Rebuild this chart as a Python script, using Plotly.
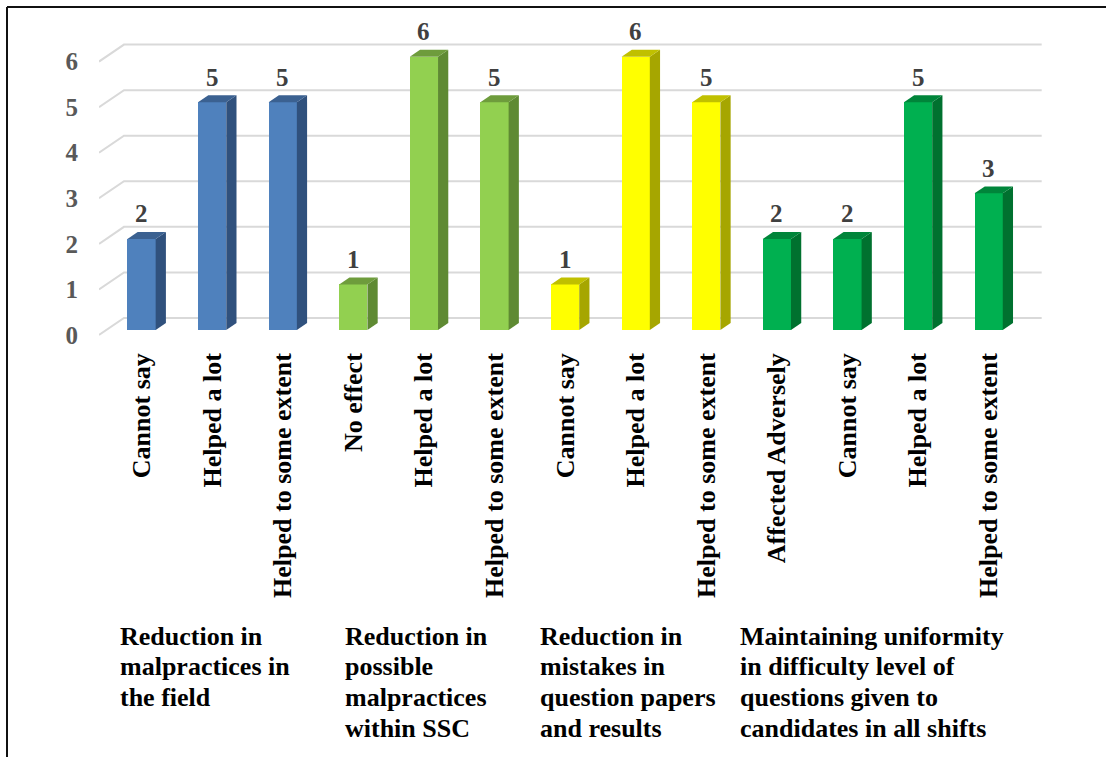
import plotly.graph_objects as go

# Survey responses on the impact of the new examination system
groups = [
    ["Reduction in", "malpractices in", "the field"],
    ["Reduction in", "possible", "malpractices", "within SSC"],
    ["Reduction in", "mistakes in", "question papers", "and results"],
    ["Maintaining uniformity", "in difficulty level of", "questions given to", "candidates in all shifts"],
]
responses = [
    ["Cannot say", "Helped a lot", "Helped to some extent"],
    ["No effect", "Helped a lot", "Helped to some extent"],
    ["Cannot say", "Helped a lot", "Helped to some extent"],
    ["Affected Adversely", "Cannot say", "Helped a lot", "Helped to some extent"],
]
counts = [
    [2, 5, 5],
    [1, 6, 5],
    [1, 6, 5],
    [2, 2, 5, 3],
]
y_ticks = [0, 1, 2, 3, 4, 5, 6]

# colour of each group: front face, right side face, top face
palette = [
    ("#4F81BD", "#30517D", "#3B6191"),
    ("#92D050", "#5F8A33", "#6E9C3C"),
    ("#FFFF00", "#A6A600", "#C0C000"),
    ("#00B050", "#00712F", "#00853A"),
]

# pseudo-3D geometry (in axis units)
FLOOR_DX, FLOOR_DY = 0.354, 0.373     # full depth of the floor
BAR_FRONT, BAR_DEPTH = 0.29, 0.41     # fraction of floor depth
HALF_W = 0.2
shift_x, base = BAR_FRONT * FLOOR_DX, BAR_FRONT * FLOOR_DY
bdx, bdy = BAR_DEPTH * FLOOR_DX, BAR_DEPTH * FLOOR_DY

labels, values, fronts, sides, tops = [], [], [], [], []
for g, (resp, cnt) in enumerate(zip(responses, counts)):
    for r, c in zip(resp, cnt):
        labels.append(r)
        values.append(c)
        fronts.append(palette[g][0])
        sides.append(palette[g][1])
        tops.append(palette[g][2])
n = len(values)
xc = [i + shift_x for i in range(n)]

SERIF = "Liberation Serif, Times New Roman, serif"
fig = go.Figure()

fig.add_trace(go.Bar(
    x=xc, y=values, base=base, width=2 * HALF_W,
    marker=dict(color=fronts, line=dict(width=0)),
    showlegend=False, hoverinfo="skip",
))

for x, v, cs, ct in zip(xc, values, sides, tops):
    xl, xr, top = x - HALF_W, x + HALF_W, base + v
    fig.add_trace(go.Scatter(
        x=[xr, xr + bdx, xr + bdx, xr, xr],
        y=[base, base + bdy, top + bdy, top, base],
        fill="toself", fillcolor=cs, mode="lines", line=dict(width=0),
        showlegend=False, hoverinfo="skip",
    ))
    fig.add_trace(go.Scatter(
        x=[xl, xr, xr + bdx, xl + bdx, xl],
        y=[top, top, top + bdy, top + bdy, top],
        fill="toself", fillcolor=ct, mode="lines", line=dict(width=0),
        showlegend=False, hoverinfo="skip",
    ))

# value labels above each column
annotations = []
for x, v in zip(xc, values):
    annotations.append(dict(
        x=x, y=base + v + bdy, xref="x", yref="y", text=str(v),
        showarrow=False, yanchor="middle", yshift=18,
        font=dict(family=SERIF, size=25, color="#404040", weight="bold"),
    ))

# wall gridlines: side wall diagonal + back wall line
x_left, x_right = -0.5, n - 0.5
shapes = []
for t in y_ticks:
    shapes.append(dict(
        type="path", xref="x", yref="y", layer="below",
        path=(f"M {x_left} {t} L {x_left + FLOOR_DX} {t + FLOOR_DY} "
              f"L {x_right + FLOOR_DX} {t + FLOOR_DY}"),
        line=dict(color="#D9D9D9", width=2),
    ))

W, H = 1106, 757
M_L, M_R, M_T, M_B = 99, 54, 16, 415
plot_w, plot_h = W - M_L - M_R, H - M_T - M_B


def paper_x(px):
    return (px - M_L) / plot_w


def paper_y(py):
    return (H - M_B - py) / plot_h


# outer frame (top and left edges)
shapes.append(dict(type="line", xref="paper", yref="paper",
                   x0=paper_x(7), y0=paper_y(7), x1=paper_x(W + 5), y1=paper_y(7),
                   line=dict(color="#111111", width=2)))
shapes.append(dict(type="line", xref="paper", yref="paper",
                   x0=paper_x(7), y0=paper_y(7), x1=paper_x(7), y1=paper_y(H + 5),
                   line=dict(color="#111111", width=2)))

# multi-line group captions below the response labels
group_left = [118, 343, 538, 738]
line_y0, line_pitch = 636, 30.7
for gx, lines in zip(group_left, groups):
    for k, txt in enumerate(lines):
        annotations.append(dict(
            x=paper_x(gx), y=paper_y(line_y0 + k * line_pitch),
            xref="paper", yref="paper", text=txt, showarrow=False,
            xanchor="left", yanchor="middle",
            font=dict(family=SERIF, size=26, color="#000000", weight="bold"),
        ))

fig.update_layout(
    width=W, height=H,
    margin=dict(l=M_L, r=M_R, t=M_T, b=M_B, pad=0),
    paper_bgcolor="white", plot_bgcolor="white",
    font=dict(family=SERIF),
    shapes=shapes, annotations=annotations,
    xaxis=dict(
        range=[x_left, n], tickmode="array", tickvals=xc, ticktext=labels,
        tickangle=-90, showgrid=False, zeroline=False, showline=False,
        ticks="", ticklabelstandoff=5,
        tickfont=dict(family=SERIF, size=26, color="#000000", weight="bold"),
    ),
    yaxis=dict(
        range=[-0.154, 7.0], tickmode="array", tickvals=y_ticks,
        ticktext=[str(t) for t in y_ticks],
        showgrid=False, zeroline=False, showline=False,
        ticks="", ticklabelstandoff=20,
        tickfont=dict(family=SERIF, size=25, color="#595959", weight="bold"),
    ),
    bargap=0,
)

fig.write_html("out.html")
